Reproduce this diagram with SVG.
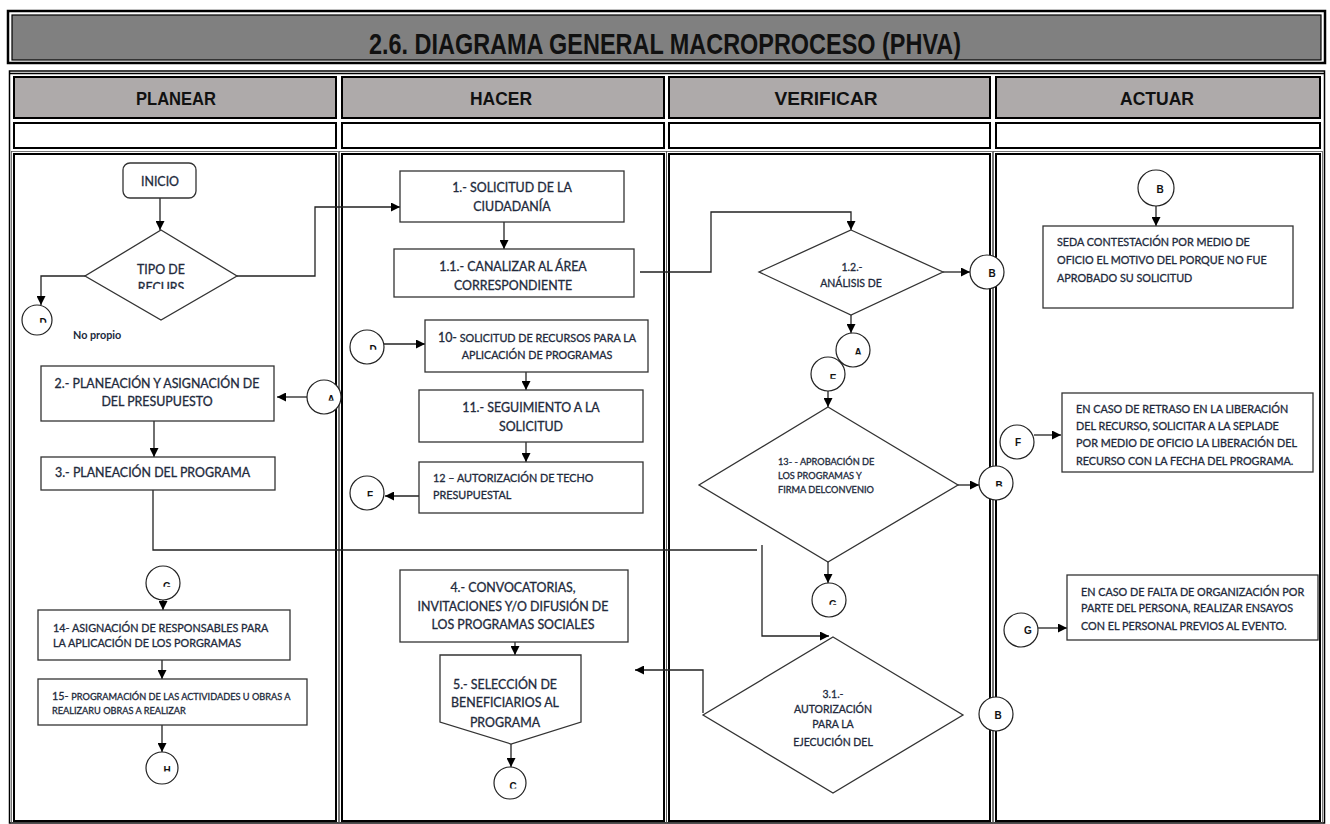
<svg xmlns="http://www.w3.org/2000/svg" width="1330" height="824" viewBox="0 0 1330 824">
<style>
.t{font-family:Lato,"Liberation Sans",sans-serif;fill:#222a3c;stroke:#222a3c;stroke-width:0.3;font-size:12.4px}
.s{font-size:10.8px}
.xs{font-size:9.2px}
.c{text-anchor:middle}
.box{fill:#fff;stroke:#333;stroke-width:1.3}
.cir{fill:#fff;stroke:#222;stroke-width:1.2}
.lt{font-family:"Liberation Sans",Arial,sans-serif;font-weight:bold;font-size:10px;fill:#111;text-anchor:middle}
.hd{font-family:"Liberation Sans",Arial,sans-serif;font-weight:bold;fill:#111;text-anchor:middle}
.cell{fill:none;stroke:#000;stroke-width:2}
.cello{fill:none;stroke:#555;stroke-width:0.8}
.con{fill:none;stroke:#222;stroke-width:1.3}
.arr{marker-end:url(#ah)}
</style>
<defs>
<marker id="ah" viewBox="0 0 10 10" refX="10" refY="5" markerWidth="10" markerHeight="9" markerUnits="userSpaceOnUse" orient="auto"><path d="M0,0 L10,5 L0,10 z" fill="#000"/></marker>
<clipPath id="k50" clipPathUnits="objectBoundingBox"><rect x="-0.5" y="0" width="2" height="0.52"/></clipPath>
<clipPath id="k58" clipPathUnits="objectBoundingBox"><rect x="-0.5" y="0" width="2" height="0.6"/></clipPath>
<clipPath id="k66" clipPathUnits="objectBoundingBox"><rect x="-0.5" y="0" width="2" height="0.68"/></clipPath>
<clipPath id="kRec"><rect x="100" y="250" width="120" height="39"/></clipPath>
</defs>
<rect width="1330" height="824" fill="#fff"/>

<g id="title">
<rect x="8" y="11" width="1317" height="52" fill="none" stroke="#000" stroke-width="2.5"/>
<rect x="12" y="15" width="1309" height="45" fill="#808080" stroke="#000" stroke-width="1.2"/>
<text x="665" y="54" class="hd" font-size="30" textLength="592" lengthAdjust="spacingAndGlyphs">2.6. DIAGRAMA GENERAL MACROPROCESO (PHVA)</text>
</g>

<g id="frame">
<rect x="9.5" y="71" width="1315" height="752" fill="none" stroke="#000" stroke-width="1.5"/>
<line x1="9.5" y1="73.5" x2="1324.5" y2="73.5" stroke="#000" stroke-width="1.5"/>
<rect x="14" y="77" width="322" height="41" class="cell" style="fill:#aeaaaa"/>
<rect x="342" y="77" width="322" height="41" class="cell" style="fill:#aeaaaa"/>
<rect x="669" y="77" width="321" height="41" class="cell" style="fill:#aeaaaa"/>
<rect x="996" y="77" width="324" height="41" class="cell" style="fill:#aeaaaa"/>
<rect x="14" y="123" width="322" height="25" class="cell"/>
<rect x="342" y="123" width="322" height="25" class="cell"/>
<rect x="669" y="123" width="321" height="25" class="cell"/>
<rect x="996" y="123" width="324" height="25" class="cell"/>
<rect x="14" y="154" width="322" height="667" class="cell"/>
<rect x="342" y="154" width="322" height="667" class="cell"/>
<rect x="669" y="154" width="321" height="667" class="cell"/>
<rect x="996" y="154" width="324" height="667" class="cell"/>
<rect x="11.5" y="151.5" width="327" height="672" class="cello"/>
<rect x="339.5" y="151.5" width="327" height="672" class="cello"/>
<rect x="666.5" y="151.5" width="326" height="672" class="cello"/>
<rect x="993.5" y="151.5" width="329" height="672" class="cello"/>
<text x="176" y="105" class="hd" font-size="19" textLength="80" lengthAdjust="spacingAndGlyphs">PLANEAR</text>
<text x="501" y="105" class="hd" font-size="19" textLength="62" lengthAdjust="spacingAndGlyphs">HACER</text>
<text x="826" y="105" class="hd" font-size="19" textLength="103" lengthAdjust="spacingAndGlyphs">VERIFICAR</text>
<text x="1157" y="105" class="hd" font-size="19" textLength="74" lengthAdjust="spacingAndGlyphs">ACTUAR</text>
</g>

<g id="connectors">
<path class="con arr" d="M160,198 V230"/>
<path class="con arr" d="M85,276 H41 V305"/>
<path class="con arr" d="M237,276 H315 V207 H400"/>
<path class="con arr" d="M504,222 V249"/>
<path class="con arr" d="M640,272 H711 V212 H851 V230"/>
<path class="con arr" d="M943,272 H970"/>
<path class="con arr" d="M851,315 V333"/>
<path class="con arr" d="M828,391 V407"/>
<path class="con arr" d="M958,485 H979"/>
<path class="con arr" d="M828,562 V583"/>
<path class="con" d="M153,490 V550 H757"/>
<path class="con arr" d="M762,545 V636 H829"/>
<path class="con arr" d="M703,713 V670 H635"/>
<path class="con arr" d="M307,397 H277"/>
<path class="con arr" d="M154,421 V457"/>
<path class="con arr" d="M163,600 V610"/>
<path class="con arr" d="M162,660 V679"/>
<path class="con arr" d="M162,725 V752"/>
<path class="con arr" d="M384,344 H425"/>
<path class="con arr" d="M526,372 V390"/>
<path class="con arr" d="M526,442 V462"/>
<path class="con arr" d="M419,496 H385"/>
<path class="con arr" d="M515,642 V655"/>
<path class="con arr" d="M511,744 V767"/>
<path class="con arr" d="M1156,206 V226"/>
<path class="con arr" d="M1034,435 H1061"/>
<path class="con arr" d="M1038,628 H1067"/>
</g>

<g id="inicio">
<rect x="123" y="163" width="73" height="35" rx="7" class="box"/>
<text x="160" y="186" class="t c">INICIO</text>
</g>
<g id="tipo-recurso">
<polygon points="161,230 237,276 161,320 85,276" class="box"/>
<text x="161" y="274" class="t c">TIPO DE</text>
<text x="161" y="292" class="t c" clip-path="url(#kRec)">RECURS</text>
</g>
<text id="no-propio" x="73" y="339" class="t s" font-weight="bold" style="stroke-width:0">No propio</text>
<g id="conD1"><circle cx="37" cy="320" r="15" class="cir"/><text x="43" y="326" class="lt" clip-path="url(#k50)">D</text></g>
<g id="conA1"><circle cx="324" cy="397" r="17" class="cir"/><text x="331" y="403" class="lt" clip-path="url(#k58)">A</text></g>
<g id="n2">
<rect x="41" y="366" width="233" height="55" class="box"/>
<text x="157" y="388" class="t c">2.- PLANEACIÓN Y ASIGNACIÓN DE</text>
<text x="157" y="406" class="t c">DEL PRESUPUESTO</text>
</g>
<g id="n3">
<rect x="41" y="457" width="234" height="33" class="box"/>
<text x="55" y="477" class="t">3.- PLANEACIÓN DEL PROGRAMA</text>
</g>
<g id="conG1"><circle cx="163" cy="583" r="17" class="cir"/><text x="167" y="590" class="lt" clip-path="url(#k50)">G</text></g>
<g id="n14">
<rect x="38" y="610" width="252" height="50" class="box"/>
<text x="53" y="632" class="t s">14- ASIGNACIÓN DE RESPONSABLES PARA</text>
<text x="53" y="647" class="t s">LA APLICACIÓN DE LOS PORGRAMAS</text>
</g>
<g id="n15">
<rect x="38" y="679" width="269" height="46" class="box"/>
<text x="52" y="700" class="t s">15- <tspan class="xs">PROGRAMACIÓN DE LAS ACTIVIDADES U OBRAS A</tspan></text>
<text x="52" y="714" class="t xs">REALIZARU OBRAS A REALIZAR</text>
</g>
<g id="conH"><circle cx="162" cy="768" r="16" class="cir"/><text x="167" y="774" class="lt" clip-path="url(#k58)">H</text></g>

<g id="n1">
<rect x="400" y="171" width="224" height="51" class="box"/>
<text x="512" y="192" class="t c">1.- SOLICITUD DE  LA</text>
<text x="512" y="211" class="t c">CIUDADANÍA</text>
</g>
<g id="n1-1">
<rect x="394" y="249" width="240" height="48" class="box"/>
<text x="513" y="271" class="t c">1.1.- CANALIZAR AL ÁREA</text>
<text x="513" y="290" class="t c">CORRESPONDIENTE</text>
</g>
<g id="conD2"><circle cx="367" cy="347" r="17" class="cir"/><text x="373" y="353" class="lt" clip-path="url(#k50)">D</text></g>
<g id="n10">
<rect x="425" y="320" width="223" height="52" class="box"/>
<text x="537" y="342" class="t c s"><tspan style="font-size:12.4px">10-</tspan> SOLICITUD DE RECURSOS PARA LA</text>
<text x="537" y="359" class="t c s">APLICACIÓN DE PROGRAMAS</text>
</g>
<g id="n11">
<rect x="419" y="390" width="224" height="52" class="box"/>
<text x="531" y="412" class="t c">11.- SEGUIMIENTO A LA</text>
<text x="531" y="431" class="t c">SOLICITUD</text>
</g>
<g id="n12">
<rect x="419" y="462" width="224" height="51" class="box"/>
<text x="433" y="482" class="t s">12 – AUTORIZACIÓN  DE TECHO</text>
<text x="433" y="499" class="t s">PRESUPUESTAL</text>
</g>
<g id="conF1"><circle cx="367" cy="493" r="17" class="cir"/><text x="370" y="499" class="lt" clip-path="url(#k58)">F</text></g>
<g id="n4">
<rect x="400" y="570" width="228" height="72" class="box"/>
<text x="513" y="592" class="t c">4.- CONVOCATORIAS,</text>
<text x="513" y="611" class="t c">INVITACIONES Y/O DIFUSIÓN DE</text>
<text x="513" y="629" class="t c">LOS PROGRAMAS SOCIALES</text>
</g>
<g id="n5">
<polygon points="440,655 581,655 581,722 511,744 440,722" class="box"/>
<text x="505" y="689" class="t c">5.- SELECCIÓN DE</text>
<text x="505" y="707" class="t c">BENEFICIARIOS AL</text>
<text x="505" y="727" class="t c">PROGRAMA</text>
</g>
<g id="conC"><circle cx="510" cy="783" r="16" class="cir"/><text x="513" y="790" class="lt" clip-path="url(#k66)">C</text></g>

<g id="n1-2">
<polygon points="851,230 943,272 851,315 759,272" class="box"/>
<text x="852" y="271" class="t c" style="font-size:10.5px">1.2.-</text>
<text x="851" y="287" class="t c" style="font-size:10.5px">ANÁLISIS DE</text>
</g>
<g id="conB1"><circle cx="987" cy="272" r="17" class="cir"/><text x="992" y="277" class="lt">B</text></g>
<g id="conA2"><circle cx="853" cy="350" r="17" class="cir"/><text x="858" y="356" class="lt" clip-path="url(#k66)">A</text></g>
<g id="conE"><circle cx="828" cy="374" r="17" class="cir"/><text x="833" y="382" class="lt" clip-path="url(#k50)">E</text></g>
<g id="n13">
<polygon points="828,407 958,485 828,562 699,485" class="box"/>
<text x="778" y="465" class="t xs">13- - APROBACIÓN DE</text>
<text x="778" y="479" class="t xs">LOS PROGRAMAS Y</text>
<text x="778" y="493" class="t xs">FIRMA DELCONVENIO</text>
</g>
<g id="conB2"><circle cx="996" cy="483" r="17" class="cir"/><text x="999" y="489" class="lt" clip-path="url(#k58)">B</text></g>
<g id="conG2"><circle cx="829" cy="600" r="17" class="cir"/><text x="833" y="608" class="lt" clip-path="url(#k50)">G</text></g>
<g id="n3-1">
<polygon points="833,637 963,715 833,793 703,715" class="box"/>
<text x="833" y="698" class="t c" style="font-size:10.5px">3.1.-</text>
<text x="833" y="713" class="t c" style="font-size:10.5px">AUTORIZACIÓN</text>
<text x="833" y="728" class="t c" style="font-size:10.5px">PARA LA</text>
<text x="833" y="746" class="t c" style="font-size:10.5px">EJECUCIÓN DEL</text>
</g>
<g id="conB3"><circle cx="996" cy="714" r="17" class="cir"/><text x="998" y="719" class="lt">B</text></g>

<g id="conB4"><circle cx="1156" cy="188" r="18" class="cir"/><text x="1160" y="193" class="lt">B</text></g>
<g id="nB">
<rect x="1043" y="226" width="250" height="82" class="box"/>
<text x="1057" y="246" class="t s">SEDA CONTESTACIÓN POR MEDIO DE</text>
<text x="1057" y="264" class="t s">OFICIO EL MOTIVO DEL PORQUE NO FUE</text>
<text x="1057" y="282" class="t s">APROBADO SU SOLICITUD</text>
</g>
<g id="conF2"><circle cx="1017" cy="442" r="17" class="cir"/><text x="1018" y="446" class="lt">F</text></g>
<g id="nF">
<rect x="1062" y="393" width="251" height="79" class="box"/>
<text x="1076" y="413" class="t s">EN CASO DE RETRASO EN LA LIBERACIÓN</text>
<text x="1076" y="430" class="t s">DEL RECURSO, SOLICITAR A LA SEPLADE</text>
<text x="1076" y="447" class="t s">POR MEDIO DE OFICIO LA LIBERACIÓN DEL</text>
<text x="1076" y="465" class="t s">RECURSO CON LA FECHA DEL PROGRAMA.</text>
</g>
<g id="conG3"><circle cx="1021" cy="630" r="17" class="cir"/><text x="1028" y="634" class="lt">G</text></g>
<g id="nG">
<rect x="1067" y="575" width="251" height="65" class="box"/>
<text x="1081" y="596" class="t s">EN CASO DE FALTA DE ORGANIZACIÓN POR</text>
<text x="1081" y="612" class="t s">PARTE DEL PERSONA, REALIZAR ENSAYOS</text>
<text x="1081" y="630" class="t s">CON EL PERSONAL PREVIOS AL EVENTO.</text>
</g>
</svg>
